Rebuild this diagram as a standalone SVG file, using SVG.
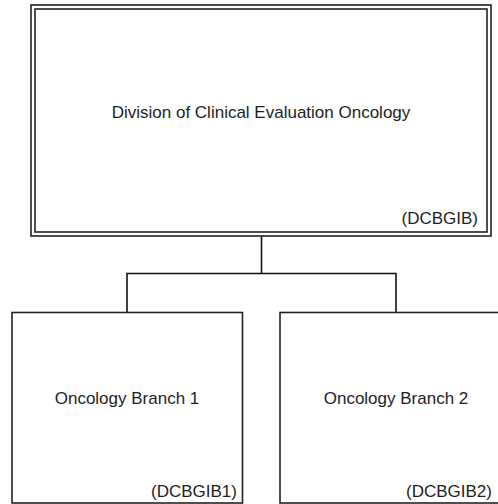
<svg xmlns="http://www.w3.org/2000/svg" width="498" height="504" viewBox="0 0 498 504">
<style>
.box{fill:#fff;stroke:#222;stroke-width:1.6}
.ln{fill:none;stroke:#111;stroke-width:1.6}
text{font-family:"Liberation Sans",Arial,sans-serif;font-size:17px;fill:#1e1e1e}
.c{text-anchor:middle}
.r{text-anchor:end}
</style>
<rect width="498" height="504" fill="#fff"/>
<g id="connectors">
<path class="ln" d="M261.5 236V273.5M127 312V273.5H396V312"/>
</g>
<g id="dceo">
<rect class="box" x="31" y="5" width="460" height="231"/>
<rect class="box" x="35" y="9" width="452" height="223"/>
<text class="c" x="261" y="118">Division of Clinical Evaluation Oncology</text>
<text class="r" x="478" y="224">(DCBGIB)</text>
</g>
<g id="branch1">
<rect class="box" x="12" y="312.5" width="230.5" height="190.5"/>
<text class="c" x="127" y="404">Oncology Branch 1</text>
<text class="r" x="237" y="497">(DCBGIB1)</text>
</g>
<g id="branch2">
<rect class="box" x="280" y="312.5" width="240" height="190.5"/>
<text class="c" x="396" y="404">Oncology Branch 2</text>
<text class="r" x="492" y="497">(DCBGIB2)</text>
</g>
</svg>
